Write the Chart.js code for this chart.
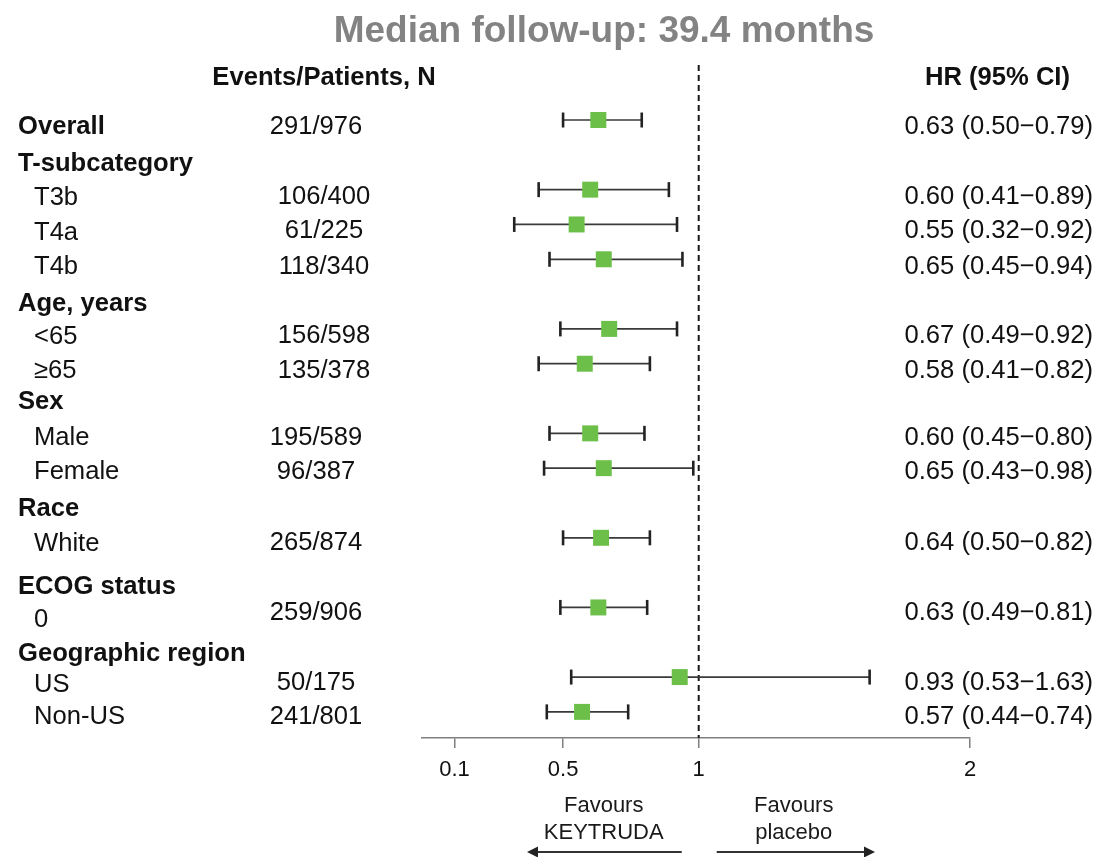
<!DOCTYPE html>
<html>
<head>
<meta charset="utf-8">
<title>Median follow-up: 39.4 months</title>
<script src="https://cdn.jsdelivr.net/npm/chart.js@4.4.1/dist/chart.umd.min.js"></script>
<style>
  html, body { margin: 0; padding: 0; background: #ffffff; }
  #wrap { position: relative; width: 1097px; height: 857px; }
</style>
</head>
<body>
<div id="wrap"><canvas id="forest"></canvas></div>
<script>
// ---- data ----
const rowLabels = ['Overall', 'T-subcategory', 'T3b', 'T4a', 'T4b', 'Age, years', '<65', '\u226565',
  'Sex', 'Male', 'Female', 'Race', 'White', 'ECOG status', '0', 'Geographic region', 'US', 'Non-US'];
const rowIsHeading = [true, true, false, false, false, true, false, false,
  true, false, false, true, false, true, false, true, false, false];
const eventsPatients = ['291/976', null, '106/400', '61/225', '118/340', null, '156/598', '135/378',
  null, '195/589', '96/387', null, '265/874', null, '259/906', null, '50/175', '241/801'];
const hazardRatio = [0.63, null, 0.60, 0.55, 0.65, null, 0.67, 0.58,
  null, 0.60, 0.65, null, 0.64, null, 0.63, null, 0.93, 0.57];
const ciLower = [0.50, null, 0.41, 0.32, 0.45, null, 0.49, 0.41,
  null, 0.45, 0.43, null, 0.50, null, 0.49, null, 0.53, 0.44];
const ciUpper = [0.79, null, 0.89, 0.92, 0.94, null, 0.92, 0.82,
  null, 0.80, 0.98, null, 0.82, null, 0.81, null, 1.63, 0.74];
const xTickValues = [0.1, 0.5, 1, 2];
const xTickLabels = ['0.1', '0.5', '1', '2'];
const referenceHR = 1;

// ---- layout ----
const W = 1097, H = 857;
const X_MIN = -0.02, X_MAX = 2;
const Y_TOP = -1.58, Y_BOTTOM = 17.75;
const FONT = '"Liberation Sans", Arial, Helvetica, sans-serif';
const INK = '#111111';
const BODY_PX = 25.6;
// small vertical nudges of the text in each row (px)
const labelNudge = [5, 7, 6, 6, 6, 8, 6, 5, 1.5, 3, 2, 4, 4, 12, 10.5, 10, 5.5, 3].map(v => v + 2);
const valueNudge = [5, 0, 5, 4, 6, 0, 5, 5, 0, 3, 2, 0, 3, 0, 3, 0, 4, 3].map(v => v + 2);
const widerCountRows = new Set([2, 3, 4, 6, 7]);

const canvas = document.getElementById('forest');
canvas.width = W; canvas.height = H;
canvas.style.width = W + 'px'; canvas.style.height = H + 'px';

// build point lists from the arrays
const whiskerPts = [], capPts = [], hrPts = [];
hazardRatio.forEach((v, i) => {
  if (v === null) return;
  whiskerPts.push({ x: ciLower[i], y: i }, { x: ciUpper[i], y: i }, { x: ciUpper[i], y: null });
  capPts.push({ x: ciLower[i], y: i }, { x: ciUpper[i], y: i });
  hrPts.push({ x: v, y: i });
});

const fmt = v => v.toFixed(2);
const hrText = i => `${fmt(hazardRatio[i])} (${fmt(ciLower[i])}\u2212${fmt(ciUpper[i])})`;

const textPlugin = {
  id: 'forestText',
  afterDraw(chart) {
    const { ctx, scales } = chart;
    const ys = scales.y, xs = scales.x;
    ctx.save();

    // title
    ctx.fillStyle = '#838383';
    ctx.font = `bold 37px ${FONT}`;
    ctx.textAlign = 'center';
    ctx.textBaseline = 'alphabetic';
    ctx.fillText('Median follow-up: 39.4 months', 604, 42);

    // column headings
    ctx.fillStyle = INK;
    ctx.font = `bold ${BODY_PX}px ${FONT}`;
    ctx.textBaseline = 'middle';
    ctx.textAlign = 'center';
    ctx.fillText('Events/Patients, N', 324, 78);
    ctx.textAlign = 'right';
    ctx.fillText('HR (95% CI)', 1070, 78);

    // rows
    rowLabels.forEach((lab, i) => {
      const yc = ys.getPixelForValue(i);
      ctx.textAlign = 'left';
      ctx.font = (rowIsHeading[i] ? 'bold ' : '') + `${BODY_PX}px ${FONT}`;
      ctx.fillText(lab, rowIsHeading[i] ? 18 : 34, yc + labelNudge[i]);
      ctx.font = `${BODY_PX}px ${FONT}`;
      if (eventsPatients[i]) {
        ctx.textAlign = 'center';
        ctx.fillText(eventsPatients[i], widerCountRows.has(i) ? 324 : 316, yc + valueNudge[i]);
      }
      if (hazardRatio[i] !== null) {
        ctx.textAlign = 'right';
        ctx.fillText(hrText(i), 1093, yc + valueNudge[i]);
      }
    });

    // direction notes under the axis
    const xRef = xs.getPixelForValue(referenceHR);
    ctx.font = `22px ${FONT}`;
    ctx.fillStyle = '#1a1a1a';
    ctx.textAlign = 'center';
    ctx.fillText('Favours', xRef - 95, 806);
    ctx.fillText('KEYTRUDA', xRef - 95, 833);
    ctx.fillText('Favours', xRef + 95, 806);
    ctx.fillText('placebo', xRef + 95, 833);

    const ay = 852;
    ctx.strokeStyle = '#333333';
    ctx.fillStyle = '#222222';
    ctx.lineWidth = 2;
    const arrow = (from, to) => {
      const dir = Math.sign(to - from);
      ctx.beginPath();
      ctx.moveTo(from, ay);
      ctx.lineTo(to - dir * 8, ay);
      ctx.stroke();
      ctx.beginPath();
      ctx.moveTo(to, ay);
      ctx.lineTo(to - dir * 11, ay - 5.5);
      ctx.lineTo(to - dir * 11, ay + 5.5);
      ctx.closePath();
      ctx.fill();
    };
    arrow(xRef - 17, 527);
    arrow(xRef + 18, 875);
    ctx.restore();
  }
};

new Chart(canvas, {
  type: 'scatter',
  data: {
    datasets: [
      {
        label: 'HR',
        data: hrPts,
        pointStyle: 'rect',
        pointRadius: 11.3,
        pointHoverRadius: 11.3,
        backgroundColor: '#6cc04a',
        borderWidth: 0,
        pointBorderWidth: 0
      },
      {
        label: 'CI caps',
        data: capPts,
        pointStyle: 'line',
        rotation: 90,
        pointRotation: 90,
        pointRadius: 7.5,
        pointHoverRadius: 7.5,
        borderColor: '#222222',
        pointBorderWidth: 2.6,
        borderWidth: 2.6
      },
      {
        label: '95% CI',
        data: whiskerPts,
        showLine: true,
        spanGaps: false,
        borderColor: '#3a3a3a',
        borderWidth: 1.7,
        pointRadius: 0,
        pointHoverRadius: 0
      },
      {
        label: 'No effect',
        data: [{ x: referenceHR, y: Y_TOP }, { x: referenceHR, y: Y_BOTTOM }],
        showLine: true,
        borderColor: '#1a1a1a',
        borderWidth: 2,
        borderDash: [6, 4],
        pointRadius: 0,
        pointHoverRadius: 0
      }
    ]
  },
  options: {
    responsive: false,
    animation: false,
    events: [],
    layout: { padding: { left: 422, right: 127, top: 65, bottom: 0 } },
    plugins: { legend: { display: false }, tooltip: { enabled: false }, title: { display: false } },
    scales: {
      x: {
        type: 'linear',
        position: 'bottom',
        min: X_MIN,
        max: X_MAX,
        afterBuildTicks: s => { s.ticks = xTickValues.map(v => ({ value: v })); },
        afterFit: s => { s.height = H - 738; },
        ticks: {
          autoSkip: false,
          maxRotation: 0,
          padding: 9,
          color: INK,
          font: { family: FONT, size: 22 },
          callback: v => xTickLabels[xTickValues.indexOf(v)]
        },
        grid: {
          drawOnChartArea: false,
          drawTicks: true,
          tickLength: 10,
          color: '#7f7f7f',
          lineWidth: 1.5
        },
        border: { display: true, color: '#7f7f7f', width: 1.5 }
      },
      y: {
        type: 'linear',
        display: false,
        reverse: true,
        min: Y_TOP,
        max: Y_BOTTOM
      }
    }
  },
  plugins: [textPlugin]
});
</script>
</body>
</html>
